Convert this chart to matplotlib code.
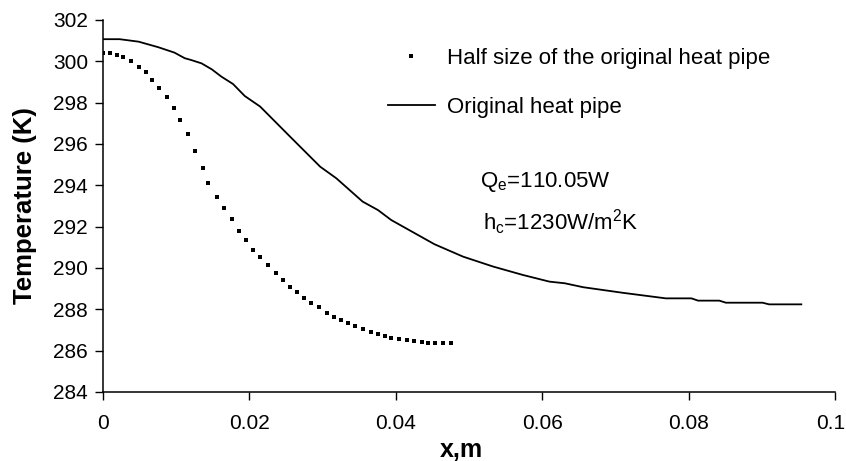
import numpy as np
import matplotlib
matplotlib.use("Agg")
import matplotlib.pyplot as plt
import matplotlib.transforms as mtransforms
from matplotlib.legend_handler import HandlerLine2D

plt.rcParams["font.family"] = ["Liberation Sans", "DejaVu Sans"]
plt.rcParams["mathtext.fontset"] = "custom"
plt.rcParams["mathtext.rm"] = "Liberation Sans"

# ── data ─────────────────────────────────────────────────────────────────────
# original heat pipe (solid line)
orig_x = [0.0000, 0.0023, 0.0049, 0.0076, 0.0098, 0.0112, 0.0121, 0.0135,
          0.0149, 0.0162, 0.0178, 0.0194, 0.0215, 0.0256, 0.0297, 0.0319,
          0.0355, 0.0376, 0.0394, 0.0453, 0.0492, 0.0533, 0.0574, 0.0610,
          0.0631, 0.0656, 0.0710, 0.0769, 0.0804, 0.0813, 0.0842, 0.0851,
          0.0901, 0.0910, 0.0954]
orig_T = [301.07, 301.07, 300.95, 300.68, 300.42, 300.15, 300.06, 299.90,
          299.61, 299.26, 298.90, 298.32, 297.81, 296.35, 294.90, 294.34,
          293.21, 292.80, 292.32, 291.15, 290.55, 290.07, 289.66, 289.34,
          289.26, 289.07, 288.80, 288.53, 288.53, 288.42, 288.42, 288.32,
          288.32, 288.24, 288.24]

# half size heat pipe (dots)
half_x = [0.0000, 0.0010, 0.0020, 0.0028, 0.0038, 0.0049, 0.0059, 0.0067,
          0.0077, 0.0088, 0.0097, 0.0106, 0.0116, 0.0126, 0.0137, 0.0144,
          0.0156, 0.0166, 0.0176, 0.0186, 0.0196, 0.0205, 0.0215, 0.0226,
          0.0237, 0.0246, 0.0256, 0.0265, 0.0275, 0.0285, 0.0296, 0.0306,
          0.0316, 0.0325, 0.0335, 0.0345, 0.0356, 0.0366, 0.0376, 0.0385,
          0.0394, 0.0405, 0.0416, 0.0425, 0.0436, 0.0444, 0.0454, 0.0465,
          0.0476]
half_T = [300.39, 300.39, 300.31, 300.20, 300.00, 299.73, 299.47, 299.08,
          298.71, 298.26, 297.73, 297.16, 296.50, 295.68, 294.84, 294.10,
          293.45, 292.92, 292.36, 291.79, 291.34, 290.87, 290.52, 290.15,
          289.77, 289.41, 289.10, 288.83, 288.57, 288.29, 288.10, 287.84,
          287.65, 287.47, 287.36, 287.20, 287.07, 286.91, 286.81, 286.73,
          286.63, 286.55, 286.52, 286.45, 286.42, 286.36, 286.36, 286.36,
          286.36]

x_ticks = [0, 0.02, 0.04, 0.06, 0.08, 0.1]
x_ticklabels = ["0", "0.02", "0.04", "0.06", "0.08", "0.1"]
y_ticks = list(range(284, 303, 2))


class DotAtEnd(HandlerLine2D):
    # put the single legend dot near the right end of the handle
    def get_xdata(self, legend, xdescent, ydescent, width, height, fontsize):
        xdata, _ = super().get_xdata(legend, xdescent, ydescent, width, height, fontsize)
        return xdata, [-xdescent + width - 3]


fig = plt.figure(figsize=(8.46, 4.61), dpi=100)
ax = fig.add_axes([0.1214, 0.1497, 0.8656, 0.807])

dots, = ax.plot(half_x, half_T, linestyle="none", marker="s", markersize=2.5,
                color="black", markeredgewidth=0,
                label="Half size of the original heat pipe")
line, = ax.plot(orig_x, orig_T, color="black", linewidth=1.3,
                label="Original heat pipe")

ax.set_xlim(0, 0.1)
ax.set_ylim(284, 302)
ax.set_xticks(x_ticks)
ax.set_xticklabels(x_ticklabels)
ax.set_yticks(y_ticks)

for s in ["top", "right"]:
    ax.spines[s].set_visible(False)
for s in ["left", "bottom"]:
    ax.spines[s].set_linewidth(1.1)
ax.tick_params(axis="both", direction="out", length=5.5, width=1.0,
               labelsize=15, colors="black")
ax.tick_params(axis="x", pad=10)
ax.tick_params(axis="y", pad=5)

# last x label sits flush with the right edge, as in the reference
last = ax.get_xticklabels()[-1]
last.set_horizontalalignment("right")
last.set_transform(last.get_transform()
                   + mtransforms.ScaledTranslation(10 / 100, 0, fig.dpi_scale_trans))

ax.set_xlabel("x,m", fontsize=18, fontweight="bold", va="center")
ax.xaxis.set_label_coords(0.49, -0.156)
ax.set_ylabel("Temperature (K)", fontsize=18.5, fontweight="bold", va="center")
ax.yaxis.set_label_coords(-0.106, 0.5)

ax.legend(handles=[dots, line], loc="upper left",
          bbox_to_anchor=(388 / 846, 1 - 48 / 461), bbox_transform=fig.transFigure,
          frameon=False, fontsize=16, handlelength=2.1, handletextpad=0.55,
          labelspacing=1.25, borderpad=0, borderaxespad=0,
          handler_map={dots: DotAtEnd(numpoints=1)})

ax.text(0.0515, 294.16, r"Q$_\mathregular{e}$=110.05W", fontsize=16, va="center")
ax.text(0.0519, 292.23, r"h$_\mathregular{c}$=1230W/m$^\mathregular{2}$K",
        fontsize=16, va="center")

plt.savefig("out.png", dpi=100)
